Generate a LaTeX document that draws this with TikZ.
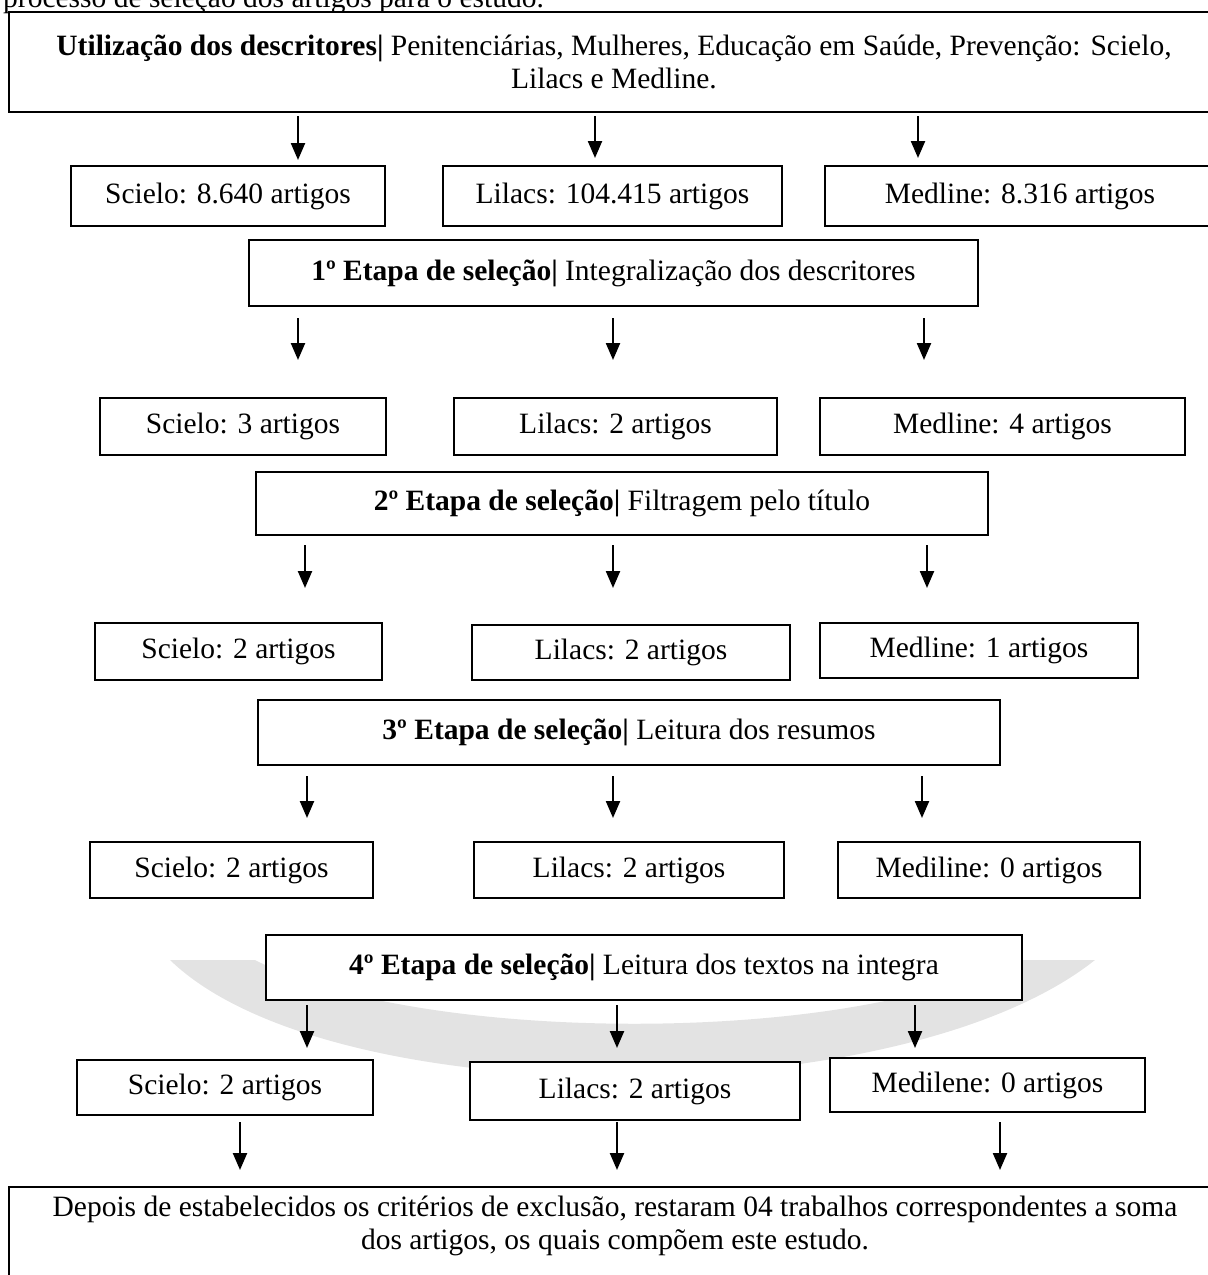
\documentclass[tikz,border=0pt]{standalone}
\usepackage{fontspec}
\setmainfont{Liberation Serif}
\usetikzlibrary{arrows.meta}
\begin{document}
\begin{tikzpicture}[x=1pt,y=-1pt,
  txt/.style={font=\fontsize{29.5}{33}\selectfont},
  box/.style={txt, draw, line width=2.8pt, inner sep=0pt, align=center, fill=white},
  arr/.style={line width=2.3pt, -{Triangle[width=14pt,length=17pt]}},
  wm/.style={fill=black!11}]
\useasboundingbox (0,0) rectangle (1208,1275);
% watermark
\fill[wm] (170,960) .. controls (330,1115) and (900,1115) .. (1095,960) -- (1010,960) .. controls (850,1045) and (420,1045) .. (255,960) -- cycle;
% cut caption line
\node[txt, anchor=base west, inner sep=0pt] (cap) at (3,7.5) {processo de seleção dos artigos para o estudo.};
% top
\node[box, minimum width=1210pt, minimum height=100pt] (top) at (614,62) {\textbf{Utilização dos descritores|} Penitenciárias, Mulheres, Educação em Saúde, Prevenção: Scielo,\\ Lilacs e Medline.};
% row 1
\node[box, minimum width=314pt, minimum height=60pt] (s1) at (228,196) {Scielo: 8.640 artigos};
\node[box, minimum width=339pt, minimum height=60pt] (l1) at (612.5,196) {Lilacs: 104.415 artigos};
\node[box, minimum width=390pt, minimum height=60pt] (m1) at (1020,196) {Medline: 8.316 artigos};
\node[box, minimum width=729pt, minimum height=66pt] (e1) at (613.5,273) {\textbf{1º Etapa de seleção|} Integralização dos descritores};
% row 2
\node[box, minimum width=286pt, minimum height=57pt] (s2) at (243,426.5) {Scielo: 3 artigos};
\node[box, minimum width=323pt, minimum height=57pt] (l2) at (615.5,426.5) {Lilacs: 2 artigos};
\node[box, minimum width=365pt, minimum height=57pt] (m2) at (1002.5,426.5) {Medline: 4 artigos};
\node[box, minimum width=732pt, minimum height=63pt] (e2) at (622,503.5) {\textbf{2º Etapa de seleção|} Filtragem pelo título};
% row 3
\node[box, minimum width=287pt, minimum height=57pt] (s3) at (238.5,651.5) {Scielo: 2 artigos};
\node[box, minimum width=318pt, minimum height=55pt] (l3) at (631,652.5) {Lilacs: 2 artigos};
\node[box, minimum width=318pt, minimum height=55pt] (m3) at (979,650.5) {Medline: 1 artigos};
\node[box, minimum width=742pt, minimum height=65pt] (e3) at (629,732.5) {\textbf{3º Etapa de seleção|} Leitura dos resumos};
% row 4
\node[box, minimum width=283pt, minimum height=56pt] (s4) at (231.5,870) {Scielo: 2 artigos};
\node[box, minimum width=310pt, minimum height=56pt] (l4) at (629,870) {Lilacs: 2 artigos};
\node[box, minimum width=302pt, minimum height=56pt] (m4) at (989,870) {Mediline: 0 artigos};
\node[box, minimum width=756pt, minimum height=65pt] (e4) at (644,967.5) {\textbf{4º Etapa de seleção|} Leitura dos textos na integra};
% row 5
\node[box, minimum width=296pt, minimum height=55pt] (s5) at (225,1087.5) {Scielo: 2 artigos};
\node[box, minimum width=330pt, minimum height=58pt] (l5) at (635,1091) {Lilacs: 2 artigos};
\node[box, minimum width=315pt, minimum height=54pt] (m5) at (987.5,1085) {Medilene: 0 artigos};
% bottom
\draw[line width=2.8pt] (9,1300) -- (9,1187) -- (1221,1187) -- (1221,1300);
\node[txt, align=center, inner sep=0pt] (fim) at (615,1226) {Depois de estabelecidos os critérios de exclusão, restaram 04 trabalhos correspondentes a soma\\ dos artigos, os quais compõem este estudo.};
% arrow end points
\foreach \n/\x/\ya/\yb in {a11/298/116/160, a12/595/116/158, a13/918/116/158,
  a21/298/318/360, a22/613/318/360, a23/924/318/360,
  a31/305/545/588, a32/613/545/588, a33/927/545/588,
  a41/307/776/818, a42/613/776/818, a43/922/776/818,
  a51/307/1005/1048, a52/617/1005/1048, a53/915/1005/1048,
  a61/240/1122/1170, a62/617/1122/1170, a63/1000/1122/1170}{
  \coordinate (\n s) at (\x,\ya);
  \coordinate (\n e) at (\x,\yb);
  \draw[arr] (\n s) -- (\n e);
}
\end{tikzpicture}
\end{document}
